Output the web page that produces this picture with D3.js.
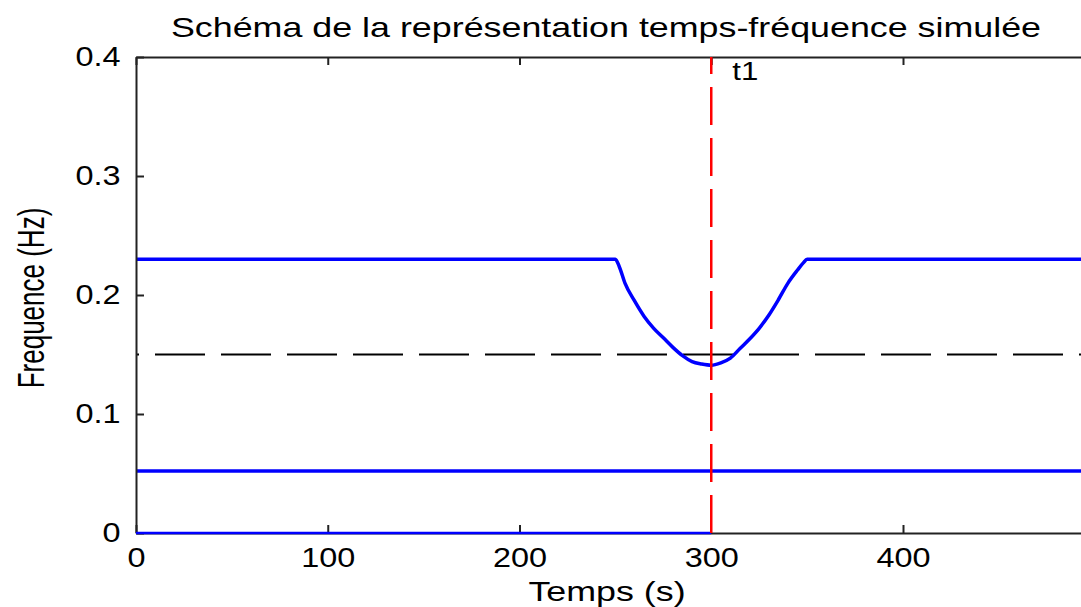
<!DOCTYPE html>
<html><head><meta charset="utf-8">
<script src="https://cdn.jsdelivr.net/npm/d3@7"></script>
<style>
html,body{margin:0;padding:0;background:#fff;}
svg text{font-family:"Liberation Sans",Arial,sans-serif;fill:#000;}
</style></head>
<body>
<svg id="chart" width="1081" height="607"></svg>
<script>
// ---- data ----
const xTicks = [0, 100, 200, 300, 400];
const yTicks = [0, 0.1, 0.2, 0.3, 0.4];
const upperTimes = [0, 250, 252, 255, 260, 265, 270, 275, 280, 285, 290, 295, 300, 305, 310, 315, 320, 325, 330, 335, 340, 345, 348, 350, 497];
const upperFreq  = [0.230, 0.230, 0.224, 0.210, 0.195, 0.182, 0.172, 0.164, 0.156, 0.149, 0.144, 0.142, 0.141, 0.143, 0.147, 0.155, 0.163, 0.172, 0.183, 0.196, 0.210, 0.221, 0.227, 0.230, 0.230];
const lowerTimes = [0, 497];
const lowerFreq  = [0.052, 0.052];
const zeroTimes  = [0, 300];
const zeroFreq   = [0, 0];
const refFreq    = 0.15;
const t1Time     = 300;
const titleText  = "Schéma de la représentation temps-fréquence simulée";
const xLabelText = "Temps (s)";
const yLabelText = "Frequence (Hz)";

// ---- layout ----
const svg = d3.select("#chart");
const L = 136, R = 1089, T = 57, B = 533;
const sx = 1.2; // horizontal stretch of glyphs
const x = d3.scaleLinear().domain([0, 497]).range([L, R]);
const y = d3.scaleLinear().domain([0, 0.4]).range([B, T]);

const line = d3.line().x(d => x(d[0])).y(d => y(d[1]));
const smooth = d3.line().x(d => x(d[0])).y(d => y(d[1])).curve(d3.curveMonotoneX);

// reference dashed line
svg.append("path")
  .attr("d", line([[0, refFreq], [497, refFreq]]))
  .attr("fill", "none").attr("stroke", "#000").attr("stroke-width", 2)
  .attr("stroke-dasharray", "50,16").attr("stroke-dashoffset", 47);

// blue series
const blue = "#0000ff";
svg.append("path").attr("d", line(lowerTimes.map((t, i) => [t, lowerFreq[i]])))
  .attr("fill", "none").attr("stroke", blue).attr("stroke-width", 3.5);
svg.append("path").attr("d", smooth(upperTimes.map((t, i) => [t, upperFreq[i]])))
  .attr("fill", "none").attr("stroke", blue).attr("stroke-width", 3.5)
  .attr("stroke-linejoin", "round");

// axes (box)
function styleAxis(g) {
  g.select(".domain").attr("stroke", "#222").attr("stroke-width", 2);
  g.selectAll(".tick line").attr("stroke", "#222").attr("stroke-width", 2);
  g.selectAll(".tick text").attr("font-size", 27).attr("fill", "#000")
    .attr("font-family", "Liberation Sans, Arial, sans-serif");
}
const gB = svg.append("g").attr("transform", `translate(0,${B})`)
  .call(d3.axisBottom(x).tickValues(xTicks).tickSizeInner(-8).tickSizeOuter(0).tickPadding(15).tickFormat(d3.format("d")));
styleAxis(gB);
gB.selectAll(".tick text").attr("transform", `scale(${sx},1)`);
gB.selectAll(".tick line").filter(d => d === 300).remove();

const gT = svg.append("g").attr("transform", `translate(0,${T})`)
  .call(d3.axisTop(x).tickValues(xTicks).tickSizeInner(-8).tickSizeOuter(0).tickFormat(""));
styleAxis(gT);

const gL = svg.append("g").attr("transform", `translate(${L},0)`)
  .call(d3.axisLeft(y).tickValues(yTicks).tickSizeInner(-8).tickSizeOuter(0).tickPadding(13).tickFormat(d => d === 0 ? "0" : d3.format(".1f")(d)));
styleAxis(gL);
gL.selectAll(".tick text").attr("transform", `scale(${sx},1)`);

const gR = svg.append("g").attr("transform", `translate(${R},0)`)
  .call(d3.axisRight(y).tickValues(yTicks).tickSizeInner(-8).tickSizeOuter(0).tickFormat(""));
styleAxis(gR);

// zero-level blue trace over the axis
svg.append("path").attr("d", line(zeroTimes.map((t, i) => [t, zeroFreq[i]])))
  .attr("fill", "none").attr("stroke", blue).attr("stroke-width", 2.5);

// t1 red dashed vertical
svg.append("path")
  .attr("d", line([[t1Time, 0], [t1Time, 0.4]]))
  .attr("fill", "none").attr("stroke", "#ff0000").attr("stroke-width", 2.5)
  .attr("stroke-dasharray", "38,13");

svg.append("text").attr("transform", `translate(${x(t1Time) + 21},80) scale(${sx},1)`)
  .attr("font-size", 26).text("t1");

// title and labels
svg.append("text").attr("transform", `translate(606,37) scale(1.28,1)`)
  .attr("text-anchor", "middle").attr("font-size", 28).text(titleText);
svg.append("text").attr("transform", `translate(607,601) scale(1.28,1)`)
  .attr("text-anchor", "middle").attr("font-size", 28).text(xLabelText);
svg.append("text").attr("transform", `translate(44,298) scale(1.4,1) rotate(-90)`)
  .attr("text-anchor", "middle").attr("font-size", 26).text(yLabelText);
</script>
</body></html>
